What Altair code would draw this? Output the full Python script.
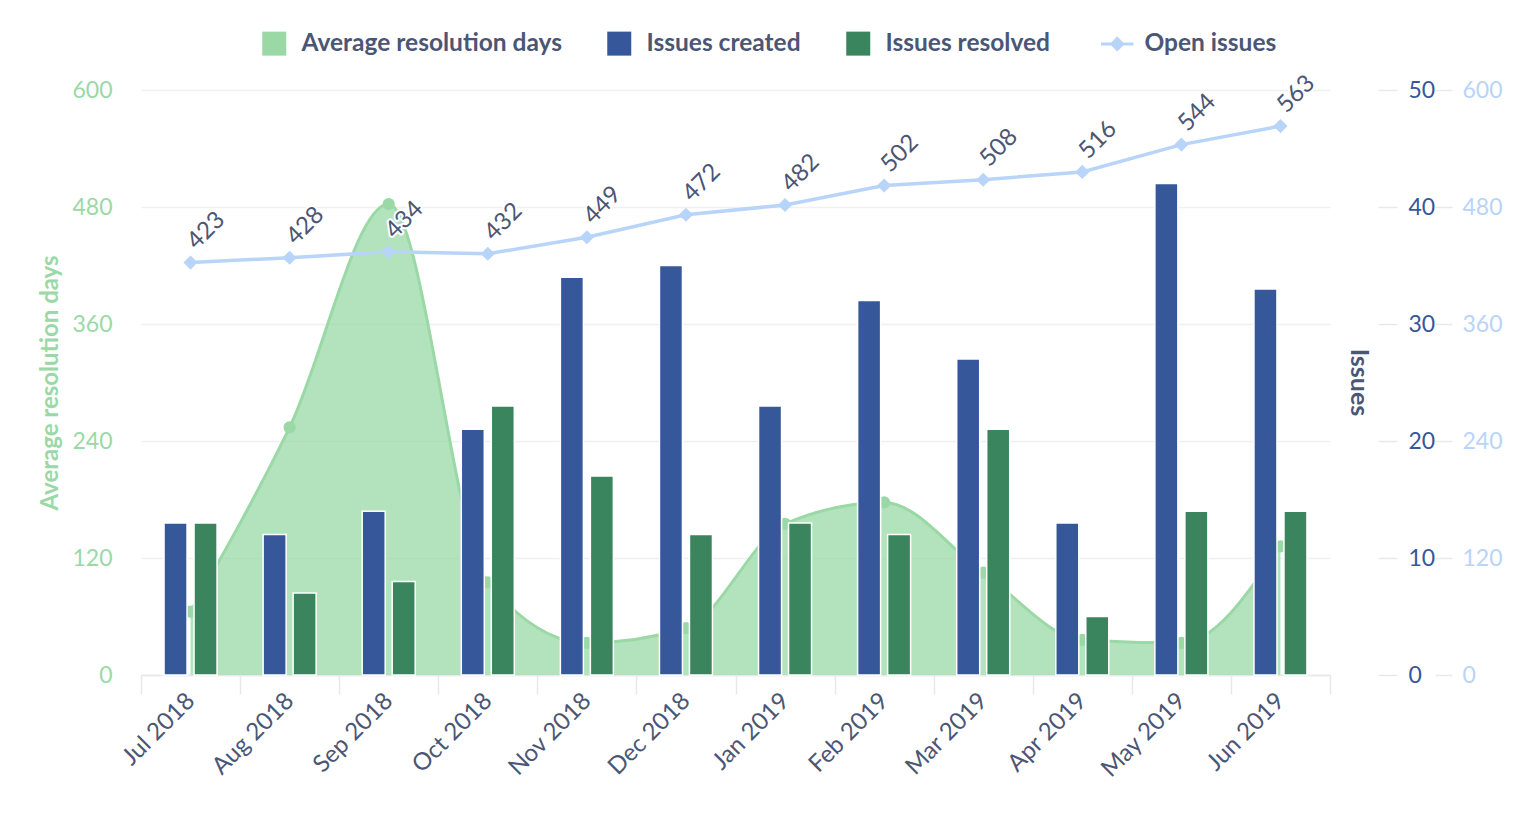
import altair as alt
import pandas as pd

# ---------------- data ----------------
months = ["Jul 2018", "Aug 2018", "Sep 2018", "Oct 2018", "Nov 2018", "Dec 2018",
          "Jan 2019", "Feb 2019", "Mar 2019", "Apr 2019", "May 2019", "Jun 2019"]
avg_resolution_days = [65, 254, 483, 95, 33, 48, 155, 177, 105, 36, 33, 132]
issues_created = [13, 12, 14, 21, 34, 35, 23, 32, 27, 13, 42, 33]
issues_resolved = [13, 7, 8, 23, 17, 12, 13, 12, 21, 5, 14, 14]
open_issues = [423, 428, 434, 432, 449, 472, 482, 502, 508, 516, 544, 563]

series_names = ["Average resolution days", "Issues created", "Issues resolved", "Open issues"]
series_colors = ["#9ad9a6", "#36579a", "#3a855d", "#b8d4f8"]
bar_series = ["Issues created", "Issues resolved"]
bar_colors = ["#36579a", "#3a855d"]

days_ticks = [0, 120, 240, 360, 480, 600]
issue_ticks = [0, 10, 20, 30, 40, 50]
open_ticks = [0, 120, 240, 360, 480, 600]

TEXT = "#4b5675"
GRID = "#f0f0f0"
TICK = "#e8e8e8"
FONT = "Lato"

wide = pd.DataFrame({
    "month": months,
    "avg": avg_resolution_days,
    "open": open_issues,
    "series": ["Open issues"] * len(months),
})
bars_df = pd.DataFrame({
    "month": months * 2,
    "series": ["Issues created"] * len(months) + ["Issues resolved"] * len(months),
    "value": issues_created + issues_resolved,
})

color_scale = alt.Scale(domain=series_names, range=series_colors)

x_enc = alt.X(
    "month:N", sort=months, title=None,
    scale=alt.Scale(range=[19, 1208], paddingInner=0, paddingOuter=0),
    axis=alt.Axis(
        labelAngle=315, labelAlign="right", labelBaseline="middle",
        labelFontSize=24, labelColor=TEXT, labelPadding=3, labelFont=FONT,
        domain=True, domainColor=TICK, domainWidth=1.5,
        ticks=True, tickColor=TICK, tickSize=19, tickWidth=1.5, tickBand="extent",
        grid=False, labelOverlap=False,
    ),
)

# ---------------- average resolution days (left axis) ----------------
y_days = alt.Y(
    "avg:Q",
    scale=alt.Scale(domain=[0, 600], nice=False, zero=True),
    axis=alt.Axis(
        orient="left", values=days_ticks, title="Average resolution days",
        titleColor="#9ad9a6", titleFontSize=24, titleFontWeight="bold", titleFont=FONT,
        titlePadding=9,
        labelColor="#9ad9a6", labelFontSize=23, labelPadding=10, labelFont=FONT,
        domain=False, ticks=False, grid=True, gridColor=GRID, gridWidth=1.5,
    ),
)

area = alt.Chart(wide).mark_area(
    interpolate="monotone", color="#9ad9a6", opacity=0.75
).encode(x=x_enc, y=y_days)
area_line = alt.Chart(wide).mark_line(
    interpolate="monotone", color="#9ad9a6", strokeWidth=3
).encode(x=x_enc, y=y_days)
area_pts = alt.Chart(wide).mark_circle(
    color="#9ad9a6", size=150, opacity=1
).encode(x=x_enc, y=y_days)
days_layer = alt.layer(area, area_line, area_pts)

# ---------------- issues bars (right axis) ----------------
bars = alt.Chart(bars_df).mark_bar(stroke="white", strokeWidth=1.5).encode(
    x=x_enc,
    xOffset=alt.XOffset("series:N", sort=bar_series,
                        scale=alt.Scale(paddingInner=0.233, paddingOuter=0.768)),
    y=alt.Y(
        "value:Q",
        scale=alt.Scale(domain=[0, 50], nice=False),
        axis=alt.Axis(
            orient="right", offset=48, values=issue_ticks, title="Issues",
            titleColor=TEXT, titleFontSize=25, titleFontWeight="bold", titleFont=FONT,
            titleAngle=90, titleX=-20, titleY=292, titleAlign="center", titleBaseline="middle",
            labelColor="#36579a", labelFontSize=23, labelPadding=11, labelFont=FONT,
            domain=False, ticks=True, tickColor=TICK, tickSize=19, tickWidth=1.5, grid=False,
        ),
    ),
    fill=alt.Fill("series:N", scale=alt.Scale(domain=bar_series, range=bar_colors), legend=None),
)

# ---------------- open issues (second right axis) ----------------
y_open = alt.Y(
    "open:Q",
    scale=alt.Scale(domain=[0, 600], nice=False),
    axis=alt.Axis(
        orient="right", offset=105, values=open_ticks, title=None,
        labelColor="#b8d4f8", labelFontSize=23, labelPadding=10, labelFont=FONT,
        domain=False, ticks=True, tickColor=TICK, tickSize=17, tickWidth=1.5, grid=False,
    ),
)

legend = alt.Legend(
    title=None, orient="none", legendX=140, legendY=-59, direction="horizontal",
    columns=4, columnPadding=45, labelOffset=15, padding=0,
    labelFontSize=24.5, labelFont=FONT, labelFontWeight="bold", labelColor=TEXT, labelLimit=0,
    symbolSize=576, symbolOpacity=1,
    symbolType=alt.ExprRef(expr="datum.value === 'Open issues' ? 'M-1.35,0H1.35M0,-0.45L0.45,0L0,0.45L-0.45,0Z' : 'square'"),
    symbolStrokeColor="#b8d4f8",
    symbolStrokeWidth=alt.ExprRef(expr="datum.value === 'Open issues' ? 3 : 0"),
)

open_line = alt.Chart(wide).mark_line(color="#b8d4f8", strokeWidth=3.5).encode(x=x_enc, y=y_open)
open_pts = alt.Chart(wide).mark_point(shape="diamond", filled=True, size=200, opacity=1).encode(
    x=x_enc, y=y_open,
    color=alt.Color("series:N", scale=color_scale, legend=legend),
)
label_halo = alt.Chart(wide).mark_text(
    angle=315, align="left", baseline="alphabetic", fontSize=24, font=FONT,
    xOffset=6, yOffset=-12, color="white", stroke="white", strokeWidth=4, strokeJoin="round",
).encode(x=x_enc, y=y_open, text=alt.Text("open:Q"))
labels = alt.Chart(wide).mark_text(
    angle=315, align="left", baseline="alphabetic", fontSize=24, font=FONT,
    xOffset=6, yOffset=-12, color=TEXT,
).encode(x=x_enc, y=y_open, text=alt.Text("open:Q"))
open_layer = alt.layer(open_line, open_pts, label_halo, labels)

chart = alt.layer(days_layer, bars, open_layer).resolve_scale(
    y="independent"
).properties(
    width=1208, height=585,
    autosize=alt.AutoSizeParams(type="none"),
    padding={"left": 114, "top": 82, "right": 190, "bottom": 130},
).configure(font=FONT).configure_view(stroke=None)

chart.save("out.html", embed_options={"renderer": "svg", "actions": False})
